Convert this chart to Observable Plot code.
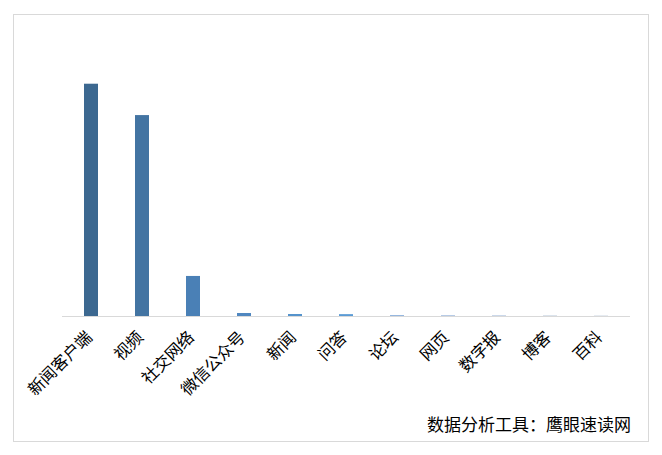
<!DOCTYPE html>
<html>
<head>
<meta charset="utf-8">
<script src="https://cdn.jsdelivr.net/npm/d3@7"></script>
<script src="https://cdn.jsdelivr.net/npm/@observablehq/plot@0.6"></script>
<style>
  html, body { margin: 0; padding: 0; background: #fff; }
  #wrap { position: relative; width: 662px; height: 455px; overflow: hidden; }
  #frame { position: absolute; left: 13px; top: 14px; width: 634px; height: 426px; border: 1px solid #d9d9d9; box-sizing: content-box; }
  #chart { position: absolute; left: 0; top: 0; }
  #caption { position: absolute; right: 31px; top: 411px; font: 17px "Noto Sans CJK SC", sans-serif; color: #000; white-space: nowrap; }
</style>
</head>
<body>
<div id="wrap">
  <div id="frame"></div>
  <div id="chart"></div>
  <div id="caption">数据分析工具：鹰眼速读网</div>
</div>
<script>
// 信息来源渠道 — 各渠道数量
const channels = ["新闻客户端", "视频", "社交网络", "微信公众号", "新闻", "问答", "论坛", "网页", "数字报", "博客", "百科"];
const counts = [3480, 3010, 600, 45, 30, 28, 12, 10, 9, 8, 7];
const barColors = ["#3c6890", "#4374a2", "#4a80b6", "#5087c0", "#5593cc", "#5b9bd5", "#7ca6d8", "#93b2da", "#a9bedc", "#bccbdc", "#cad4e0"];

const rows = channels.map((c, i) => ({channel: c, count: counts[i]}));

const chart = Plot.plot({
  width: 662,
  height: 455,
  marginLeft: 62,
  marginRight: 32,
  marginTop: 49,
  marginBottom: 139,
  style: {fontFamily: "'Noto Sans CJK SC', sans-serif", fontSize: "16px", color: "#000", background: "transparent"},
  x: {domain: channels, paddingInner: 0.73, paddingOuter: 0.365, label: null},
  y: {domain: [0, 4000], axis: null},
  color: {domain: channels, range: barColors},
  marks: [
    Plot.barY(rows, {x: "channel", y: "count", fill: "channel"}),
    Plot.ruleY([0], {stroke: "#d9d9d9", strokeWidth: 1}),
    Plot.axisX({tickRotate: -45, tickSize: 0, tickPadding: 18, dx: -2, fontSize: 16.5, fill: "#000", label: null})
  ]
});
document.getElementById("chart").appendChild(chart);
</script>
</body>
</html>
